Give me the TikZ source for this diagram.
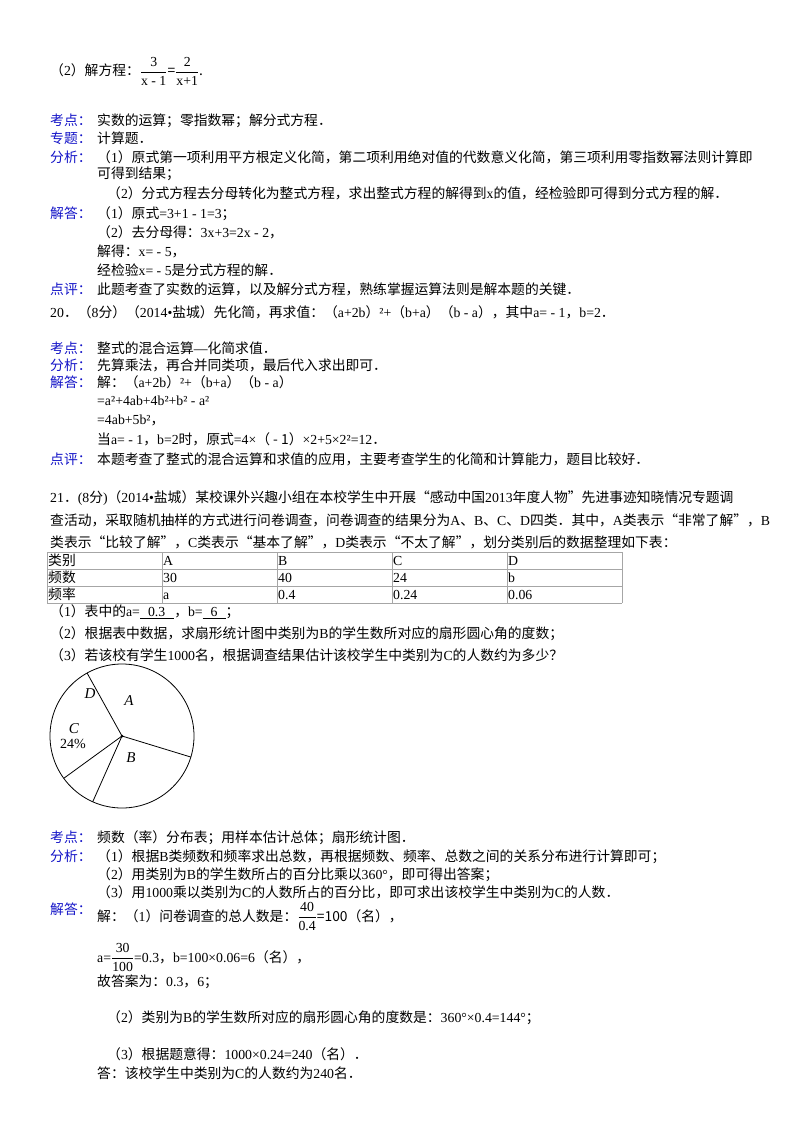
\documentclass[tikz,border=0pt]{standalone}
\usepackage{amsmath}
\usepackage{fontspec}
\setmainfont{Liberation Serif}
\newfontfamily\cjk{Noto Sans CJK SC}
\newfontfamily\lat{Liberation Serif}
\XeTeXinterchartokenstate=1
\newXeTeXintercharclass\CJKcls
\count255="3000
\loop\XeTeXcharclass\count255=\CJKcls\ifnum\count255<"9FFF\advance\count255 1\repeat
\count255="FF00
\loop\XeTeXcharclass\count255=\CJKcls\ifnum\count255<"FFEF\advance\count255 1\repeat
\count255="FE30
\loop\XeTeXcharclass\count255=\CJKcls\ifnum\count255<"FE6F\advance\count255 1\repeat
\XeTeXcharclass"201C=\CJKcls \XeTeXcharclass"201D=\CJKcls
\XeTeXinterchartoks 0 \CJKcls = {\cjk}
\XeTeXinterchartoks 4095 \CJKcls = {\cjk}
\XeTeXinterchartoks \CJKcls 0 = {\lat}
\definecolor{lb}{RGB}{20,20,200}
\newcommand{\fr}[2]{\ensuremath{\dfrac{\text{\lat #1}}{\text{\lat #2}}}}
\begin{document}
\begin{tikzpicture}[x=1pt,y=-1pt,
  t/.style={anchor=base west,inner sep=0,font=\fontsize{13.8}{16}\selectfont},
  lab/.style={t,text=lb},
  pl/.style={font=\fontsize{15}{16}\selectfont\itshape}]
\useasboundingbox[fill=white] (0,0) rectangle (800,1132);
\node[t] (l1) at (50,76) {（2）解方程：\fr{3}{x - 1}{=}\fr{2}{x+1}.};
\node[lab] (k1) at (50,125) {考点：};
\node[t] (k1t) at (97,125) {实数的运算；零指数幂；解分式方程．};
\node[lab] (z1) at (50,143) {专题：};
\node[t] (z1t) at (97,143) {计算题．};
\node[lab] (f1) at (50,162) {分析：};
\node[t] (f1a) at (97,162) {（1）原式第一项利用平方根定义化简，第二项利用绝对值的代数意义化简，第三项利用零指数幂法则计算即};
\node[t] (f1b) at (97,178) {可得到结果；};
\node[t] (f1c) at (107,198) {（2）分式方程去分母转化为整式方程，求出整式方程的解得到x的值，经检验即可得到分式方程的解．};
\node[lab] (j1) at (50,218) {解答：};
\node[t] (j1a) at (97,218) {（1）原式=3+1 - 1=3；};
\node[t] (j1b) at (97,237) {（2）去分母得：3x+3=2x - 2，};
\node[t] (j1c) at (97,256) {解得：x= - 5，};
\node[t] (j1d) at (97,275) {经检验x= - 5是分式方程的解．};
\node[lab] (d1) at (50,294) {点评：};
\node[t] (d1t) at (97,294) {此题考查了实数的运算，以及解分式方程，熟练掌握运算法则是解本题的关键．};
\node[t] (q20) at (50,317) {20．（8分）（2014•盐城）先化简，再求值：（a+2b）²+（b+a）（b - a），其中a= - 1，b=2．};
\node[lab] (k2) at (50,353) {考点：};
\node[t] (k2t) at (97,353) {整式的混合运算—化简求值．};
\node[lab] (f2) at (50,370) {分析：};
\node[t] (f2t) at (97,370) {先算乘法，再合并同类项，最后代入求出即可．};
\node[lab] (j2) at (50,387) {解答：};
\node[t] (j2a) at (97,387) {解：（a+2b）²+（b+a）（b - a）};
\node[t] (j2b) at (97,405) {=a²+4ab+4b²+b² - a²};
\node[t] (j2c) at (97,424) {=4ab+5b²，};
\node[t] (j2d) at (97,444) {当a= - 1，b=2时，原式=4×（ - 1）×2+5×2²=12．};
\node[lab] (d2) at (50,464) {点评：};
\node[t] (d2t) at (97,464) {本题考查了整式的混合运算和求值的应用，主要考查学生的化简和计算能力，题目比较好．};
\node[t] (q21a) at (50,502) {21．(8分)（2014•盐城）某校课外兴趣小组在本校学生中开展“感动中国2013年度人物”先进事迹知晓情况专题调};
\node[t] (q21b) at (50,525) {查活动，采取随机抽样的方式进行问卷调查，问卷调查的结果分为A、B、C、D四类．其中，A类表示“非常了解”，B};
\node[t] (q21c) at (50,547) {类表示“比较了解”，C类表示“基本了解”，D类表示“不太了解”，划分类别后的数据整理如下表：};
% table
\foreach \yy in {552,569,586,603} \draw[gray!70,line width=0.8pt] (47,\yy) -- (622,\yy);
\foreach \xx in {47,162,277,392,507,622} \draw[gray!70,line width=0.8pt] (\xx,552) -- (\xx,603);
\node[t] (c11) at (48,565) {类别}; \node[t] (c12) at (163,565) {A}; \node[t] (c13) at (278,565) {B}; \node[t] (c14) at (393,565) {C}; \node[t] (c15) at (508,565) {D};
\node[t] (c21) at (48,582) {频数}; \node[t] (c22) at (163,582) {30}; \node[t] (c23) at (278,582) {40}; \node[t] (c24) at (393,582) {24}; \node[t] (c25) at (508,582) {b};
\node[t] (c31) at (48,599) {频率}; \node[t] (c32) at (163,599) {a}; \node[t] (c33) at (278,599) {0.4}; \node[t] (c34) at (393,599) {0.24}; \node[t] (c35) at (508,599) {0.06};
\node[t] (p1) at (50,616) {（1）表中的a=\underline{\hspace{8pt}0.3\hspace{9pt}}，b=\underline{\hspace{8pt}6\hspace{8pt}}；};
\node[t] (p2) at (50,638) {（2）根据表中数据，求扇形统计图中类别为B的学生数所对应的扇形圆心角的度数；};
\node[t] (p3) at (50,660) {（3）若该校有学生1000名，根据调查结果估计该校学生中类别为C的人数约为多少？};
% pie
\coordinate (o) at (122,736);
\draw[line width=0.8pt] (o) circle (72);
\foreach \a in {114,17,-119,144} \draw[line width=0.8pt] (o) -- ++(\a:72);
\fill (o) circle (1.5);
\node[pl] (pa) at (129,701) {A};
\node[pl] (pd) at (90,694) {D};
\node[pl] (pc) at (74,729) {C};
\node[font=\fontsize{14}{14}\selectfont] (pc2) at (73,744) {24\%};
\node[pl] (pb) at (131,758) {B};
\node[lab] (k3) at (50,842) {考点：};
\node[t] (k3t) at (97,842) {频数（率）分布表；用样本估计总体；扇形统计图．};
\node[lab] (f3) at (50,861) {分析：};
\node[t] (f3a) at (97,861) {（1）根据B类频数和频率求出总数，再根据频数、频率、总数之间的关系分布进行计算即可；};
\node[t] (f3b) at (97,879) {（2）用类别为B的学生数所占的百分比乘以360°，即可得出答案；};
\node[t] (f3c) at (97,897) {（3）用1000乘以类别为C的人数所占的百分比，即可求出该校学生中类别为C的人数．};
\node[lab] (j3) at (50,914) {解答：};
\node[t] (j3a) at (97,921) {解：（1）问卷调查的总人数是：\fr{40}{0.4}=100（名），};
\node[t] (j3b) at (97,962) {a=\fr{30}{100}=0.3，b=100×0.06=6（名），};
\node[t] (j3c) at (97,986) {故答案为：0.3，6；};
\node[t] (j3d) at (107,1022) {（2）类别为B的学生数所对应的扇形圆心角的度数是：360°×0.4=144°；};
\node[t] (j3e) at (107,1059) {（3）根据题意得：1000×0.24=240（名）．};
\node[t] (j3f) at (97,1078) {答：该校学生中类别为C的人数约为240名．};
\end{tikzpicture}
\end{document}
